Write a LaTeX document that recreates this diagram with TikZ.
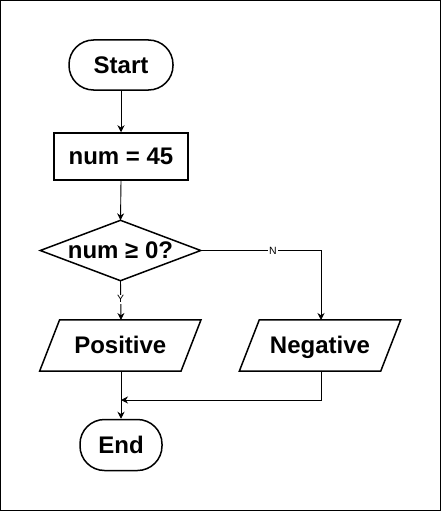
\documentclass[tikz,border=0pt]{standalone}
\usepackage{fontspec}
\setmainfont{Liberation Sans}
\usetikzlibrary{arrows.meta,calc}
\begin{document}
\begin{tikzpicture}[x=1pt,y=-1pt,
  shapeline/.style={line width=1.5pt},
  boxtext/.style={font=\fontsize{24}{28}\selectfont\bfseries, inner sep=0pt, text height=16.5pt, text depth=0pt},
  term/.style={boxtext, draw, shapeline, rounded corners=24.5pt},
  procbox/.style={boxtext, draw, shapeline},
  plain/.style={boxtext},
  conn/.style={line width=0.9pt, -{Stealth[length=7pt,width=7pt]}},
  lab/.style={font=\fontsize{10.5}{12}\selectfont, fill=white, inner sep=1pt}
]
\useasboundingbox (0,0) rectangle (441,511);
\draw[line width=1pt] (0.5,0.5) rectangle (440.5,510.5);

\node[term, minimum width=104pt, minimum height=50pt] (start) at (121,65) {Start};
\node[procbox, minimum width=134pt, minimum height=47pt] (num) at (121,156.5) {num = 45};
\node[plain, minimum width=160pt, minimum height=60pt] (dec) at (120.5,250.5) {num ≥ 0?};
\draw[shapeline] (dec.north) -- (dec.east) -- (dec.south) -- (dec.west) -- cycle;
\node[plain, minimum width=161pt, minimum height=51pt] (pos) at (120.3,345.5) {Positive};
\draw[shapeline] ($(pos.north west)+(20,0)$) -- (pos.north east) -- ($(pos.south east)-(20,0)$) -- (pos.south west) -- cycle;
\node[plain, minimum width=161pt, minimum height=51pt] (neg) at (320,345.5) {Negative};
\draw[shapeline] ($(neg.north west)+(20,0)$) -- (neg.north east) -- ($(neg.south east)-(20,0)$) -- (neg.south west) -- cycle;
\node[term, minimum width=82pt, minimum height=51pt] (end) at (121,445) {End};

\coordinate (posn) at (121,320);
\coordinate (negn) at (321,320);
\coordinate (poss) at (121,371);
\coordinate (negs) at (321,371);
\coordinate (merge) at (121,400);

\draw[conn] (start.south) -- (num.north);
\draw[conn] (num.south) -- (dec.north);
\draw[conn] (dec.east) -- node[lab, pos=0.6] {N} (dec.east -| negn) -- (negn);
\draw[conn] (dec.south) -- node[lab, pos=0.47] {Y} (posn);
\draw[conn] (poss) -- (end.north);
\draw[conn] (negs) |- (merge);
\end{tikzpicture}
\end{document}
